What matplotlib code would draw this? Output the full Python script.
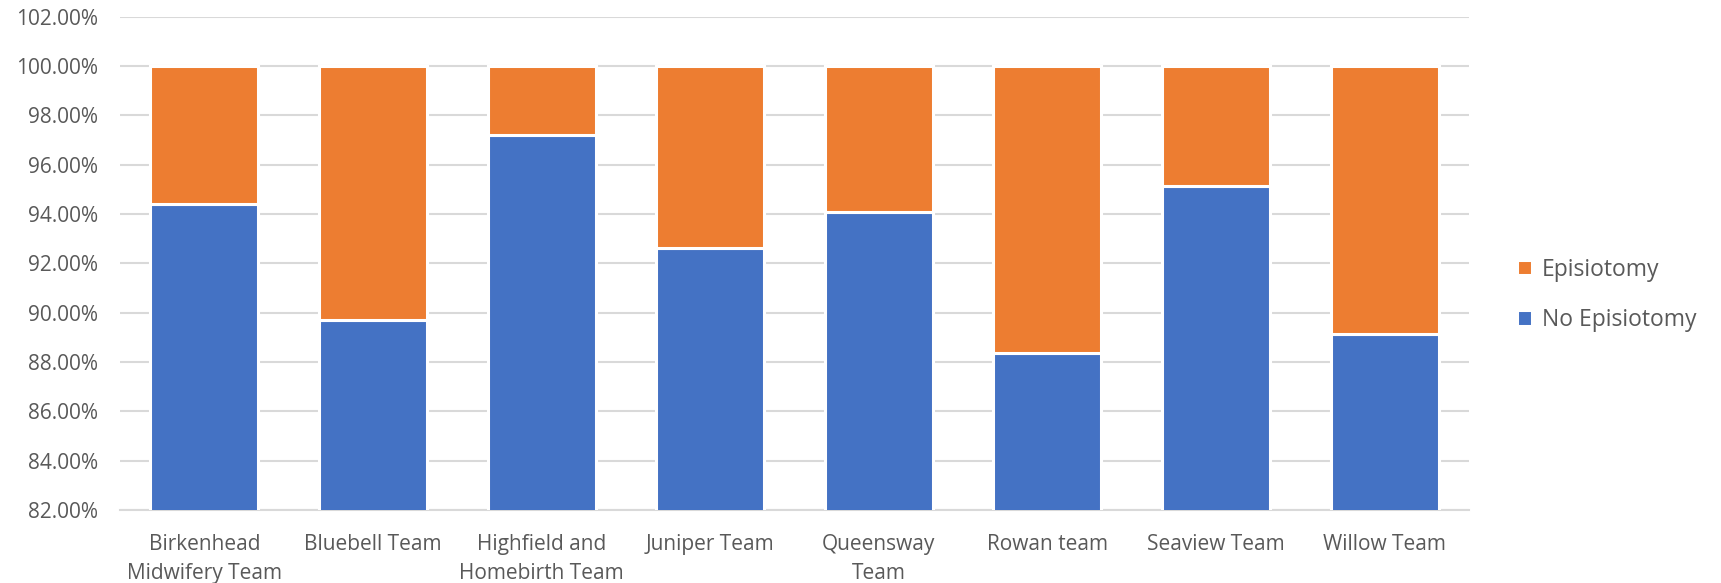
import matplotlib
matplotlib.use("Agg")
import matplotlib.pyplot as plt
import numpy as np
from matplotlib.ticker import FuncFormatter, MultipleLocator

categories = ["Birkenhead\nMidwifery Team", "Bluebell Team", "Highfield and\nHomebirth Team",
              "Juniper Team", "Queensway\nTeam", "Rowan team", "Seaview Team", "Willow Team"]
no_episiotomy = [94.40, 89.72, 97.20, 92.60, 94.09, 88.35, 95.15, 89.13]
episiotomy = [100 - v for v in no_episiotomy]

BLUE = "#4472C4"
ORANGE = "#ED7D31"
GRID = "#D9D9D9"
TEXT = "#595959"
FONT = "Open Sans"

fig = plt.figure(figsize=(17.21, 5.83), dpi=100)
ax = fig.add_axes([120 / 1721, 1 - 510 / 583, (1469 - 120) / 1721, (510 - 16.5) / 583])

x = np.arange(len(categories))
w = 0.64
ax.bar(x, no_episiotomy, w, color=BLUE, edgecolor="white", linewidth=2.2,
       label="No Episiotomy", zorder=3)
ax.bar(x, episiotomy, w, bottom=no_episiotomy, color=ORANGE, edgecolor="white",
       linewidth=2.2, label="Episiotomy", zorder=3)

ax.set_xlim(-0.5, len(categories) - 0.5)
ax.set_ylim(82, 102)
ax.yaxis.set_major_locator(MultipleLocator(2))
ax.yaxis.set_major_formatter(FuncFormatter(lambda v, p: f"{v:.2f}%"))
ax.grid(axis="y", color=GRID, linewidth=1.5, zorder=0)
ax.set_axisbelow(True)
for s in ["top", "right", "left"]:
    ax.spines[s].set_visible(False)
ax.spines["bottom"].set_color(GRID)
ax.spines["bottom"].set_linewidth(1.5)
ax.tick_params(axis="both", length=0, colors=TEXT, labelsize=15)
ax.tick_params(axis="y", pad=15.5)
ax.tick_params(axis="x", pad=17)
ax.set_xticks(x)
ax.set_xticklabels(categories, fontfamily=FONT, linespacing=1.5)
for lbl in ax.get_yticklabels():
    lbl.set_fontfamily(FONT)

handles, labels = ax.get_legend_handles_labels()
leg = fig.legend(handles[::-1], labels[::-1], loc="center left",
                 bbox_to_anchor=(1496 / 1721, 1 - 295 / 583), frameon=False,
                 prop={"family": FONT, "size": 16.5}, handlelength=0.65, handleheight=0.65,
                 handletextpad=0.45, labelspacing=1.15)
for t in leg.get_texts():
    t.set_color(TEXT)

fig.savefig("out.png", dpi=100)
